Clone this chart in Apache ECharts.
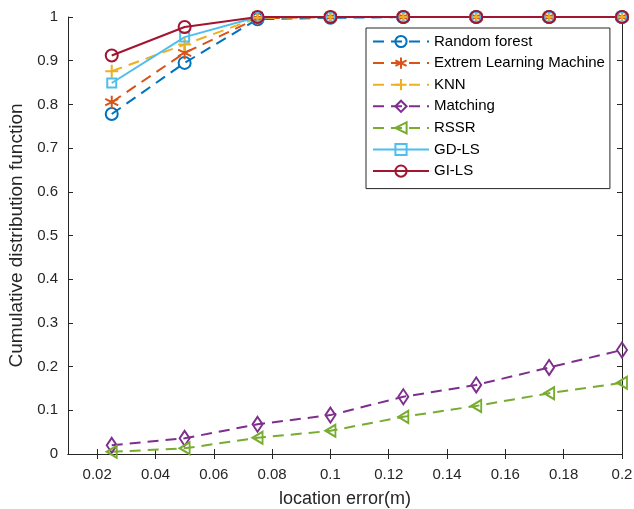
<!DOCTYPE html>
<html>
<head>
<meta charset="utf-8">
<script src="https://cdn.jsdelivr.net/npm/echarts@6/dist/echarts.min.js"></script>
<style>html,body{margin:0;padding:0;background:#fff}#c{width:634px;height:509px}</style>
</head>
<body>
<div id="c"></div>
<script>
var xValues = [0.025, 0.05, 0.075, 0.1, 0.125, 0.15, 0.175, 0.2];
var randomForest = [0.778, 0.895, 0.995, 0.998, 1, 1, 1, 1];
var elm = [0.805, 0.918, 0.997, 1, 1, 1, 1, 1];
var knn = [0.876, 0.937, 0.998, 1, 1, 1, 1, 1];
var matching = [0.02, 0.036, 0.068, 0.089, 0.131, 0.158, 0.198, 0.238];
var rssr = [0.005, 0.013, 0.037, 0.053, 0.085, 0.11, 0.139, 0.163];
var gdls = [0.849, 0.954, 1, 1, 1, 1, 1, 1];
var gils = [0.912, 0.977, 1, 1, 1, 1, 1, 1];
var xTicks = [0.02, 0.04, 0.06, 0.08, 0.1, 0.12, 0.14, 0.16, 0.18, 0.2];
var yTicks = [0, 0.1, 0.2, 0.3, 0.4, 0.5, 0.6, 0.7, 0.8, 0.9, 1];

function pts(arr){ return xValues.map(function(x,i){ return [x, arr[i]]; }); }
var FONT = 'Liberation Sans, Arial, Helvetica, sans-serif';
var DASH = [11, 7];
function mk(name, data, color, symbol, size, dashed, rotate){
  return {
    name: name, type: 'line', data: pts(data),
    symbol: symbol, symbolSize: size, symbolRotate: rotate || 0,
    showAllSymbol: true,
    lineStyle: {color: color, width: 2, type: dashed ? DASH : 'solid'},
    itemStyle: {color: 'rgba(255,255,255,0)', borderColor: color, borderWidth: 2},
    emphasis: {disabled: true},
    animation: false
  };
}
var chart = echarts.init(document.getElementById('c'), null, {renderer: 'canvas'});
var tick = {show: true, inside: true, length: 5, lineStyle: {color: '#262626'}};
var line = {show: true, lineStyle: {color: '#262626', width: 1}};
chart.setOption({
  animation: false,
  textStyle: {fontFamily: FONT},
  grid: {left: 68, right: 12, top: 17, bottom: 55, outerBoundsMode: 'none', containLabel: false},
  xAxis: [
    {
      type: 'value', min: 0.01, max: 0.2, position: 'bottom',
      axisLine: line, splitLine: {show: false},
      axisTick: Object.assign({customValues: xTicks}, tick),
      axisLabel: {customValues: xTicks, color: '#262626', fontSize: 15, fontFamily: FONT, margin: 13},
      name: 'location error(m)', nameLocation: 'middle', nameGap: 36,
      nameTextStyle: {color: '#262626', fontSize: 18, fontFamily: FONT}
    },
    {
      type: 'value', min: 0.01, max: 0.2, position: 'top',
      axisLine: line, splitLine: {show: false},
      axisTick: Object.assign({customValues: xTicks}, tick),
      axisLabel: {show: false}
    }
  ],
  yAxis: [
    {
      type: 'value', min: 0, max: 1, position: 'left',
      axisLine: line, splitLine: {show: false},
      axisTick: Object.assign({customValues: yTicks}, tick),
      axisLabel: {customValues: yTicks, color: '#262626', fontSize: 15, fontFamily: FONT, margin: 10},
      name: 'Cumulative distribution function', nameLocation: 'middle', nameGap: 35,
      nameTextStyle: {color: '#262626', fontSize: 19, fontFamily: FONT}
    },
    {
      type: 'value', min: 0, max: 1, position: 'right',
      axisLine: line, splitLine: {show: false},
      axisTick: Object.assign({customValues: yTicks}, tick),
      axisLabel: {show: false}
    }
  ],
  legend: {
    orient: 'vertical', left: 366, top: 28,
    backgroundColor: '#fff', borderColor: '#262626', borderWidth: 1,
    padding: [6, 5, 10, 6], itemGap: 6.6, itemWidth: 56, itemHeight: 14,
    textStyle: {color: '#000', fontSize: 15, fontFamily: FONT},
    data: ['Random forest', 'Extrem Learning Machine', 'KNN', 'Matching', 'RSSR', 'GD-LS', 'GI-LS']
  },
  series: [
    mk('Random forest', randomForest, '#0072BD', 'circle', 12, true),
    mk('Extrem Learning Machine', elm, '#D95319', 'path://M0,-10L0,10M-8.66,-5L8.66,5M-8.66,5L8.66,-5', 13, true),
    mk('KNN', knn, '#EDB120', 'path://M0,-10L0,10M-10,0L10,0', 13, true),
    mk('Matching', matching, '#7E2F8E', 'diamond', [10, 15], true),
    mk('RSSR', rssr, '#77AC30', 'triangle', [12, 10], true, 90),
    mk('GD-LS', gdls, '#4DBEEE', 'rect', 9, false),
    mk('GI-LS', gils, '#A2142F', 'circle', 12, false)
  ]
});
</script>
</body>
</html>
